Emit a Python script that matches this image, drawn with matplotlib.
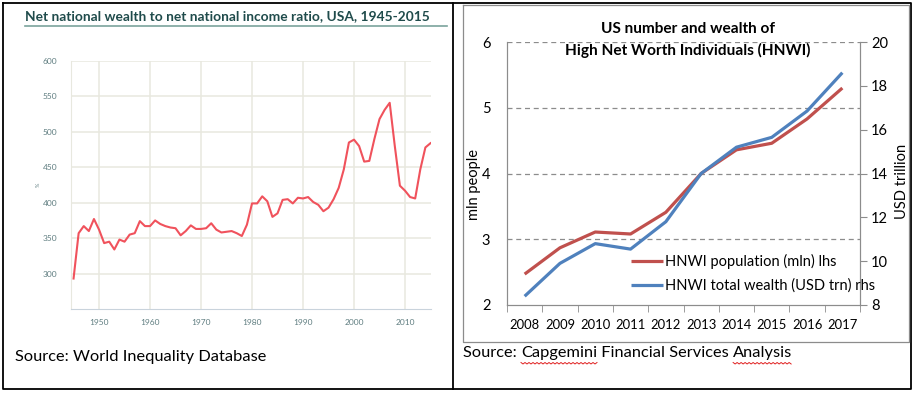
import matplotlib
matplotlib.use('Agg')
import matplotlib.pyplot as plt
from matplotlib.lines import Line2D

plt.rcParams['font.family'] = ['Lato', 'DejaVu Sans']

W, H = 918, 399

# ---- left chart: net national wealth / net national income, USA (%)
wid_years = list(range(1945, 2016))
wid_ratio = [293, 357, 367, 360, 377, 362, 343, 345, 334, 348,
             345, 355, 357, 374, 367, 367, 375, 370, 367, 365,
             364, 354, 360, 368, 363, 363, 364, 371, 362, 358,
             359, 360, 357, 353, 369, 399, 399, 409, 402, 380,
             385, 404, 405, 399, 407, 406, 408, 401, 397, 388,
             393, 405, 421, 447, 485, 489, 480, 458, 459, 490,
             518, 531, 541, 480, 424, 417, 408, 406, 447, 478, 484]
wid_yticks = [300, 350, 400, 450, 500, 550, 600]
wid_xticks = [1950, 1960, 1970, 1980, 1990, 2000, 2010]

# ---- right chart: US HNWI (Capgemini)
hnwi_years = ['2008', '2009', '2010', '2011', '2012', '2013', '2014', '2015', '2016', '2017']
hnwi_pop = [2.47, 2.87, 3.11, 3.08, 3.41, 4.00, 4.36, 4.46, 4.83, 5.30]
hnwi_wealth = [8.4, 9.9, 10.8, 10.55, 11.8, 14.0, 15.2, 15.65, 16.85, 18.6]


def box(x0, y0, x1, y1):
    # pixel box (top-left origin) -> figure fraction rect
    return [x0 / W, 1 - y1 / H, (x1 - x0) / W, (y1 - y0) / H]


def fline(xs, ys, **kw):
    fig.add_artist(Line2D([x / W for x in xs], [1 - y / H for y in ys],
                          transform=fig.transFigure, **kw))


def ftext(x, y, s, **kw):
    return fig.text(x / W, 1 - y / H, s, **kw)


fig = plt.figure(figsize=(W / 100, H / 100), dpi=100)

# table borders
fline([3, 911, 911, 3, 3], [3, 3, 389, 389, 3], color='black', lw=1.3)
fline([452.5, 452.5], [3, 389], color='black', lw=1.3)
fline([463, 909, 909, 463, 463], [4.5, 4.5, 342, 342, 4.5], color='#8c8c8c', lw=0.9)

# ---------------- left panel ----------------
teal = '#1f4b4b'
ftext(25, 16, 'Net national wealth to net national income ratio, USA, 1945-2015',
      fontsize=9.9, fontweight='bold', color=teal, va='center', ha='left')
fline([25, 447], [26, 26], color='#7aa39c', lw=1.2)

ax1 = fig.add_axes(box(71, 61, 431, 309))
ax1.plot(wid_years, wid_ratio, color='#f0525c', lw=1.5, solid_joinstyle='round')
ax1.set_xlim(1944.5, 2015.1)
ax1.set_ylim(250, 600)
ax1.set_yticks(wid_yticks)
ax1.set_xticks(wid_xticks)
ax1.grid(True, color='#e8e8df', lw=1.1)
ax1.set_axisbelow(True)
for s in ['top', 'right']:
    ax1.spines[s].set_visible(False)
ax1.spines['left'].set_color('#e8e8df')
ax1.spines['bottom'].set_color('#c9d3dc')
ax1.tick_params(length=0, labelsize=6, labelcolor='#5f7d80', pad=7)
ax1.tick_params(axis='y', pad=10)
ftext(38, 185, '%', fontsize=4, color='#5f7d80', rotation=90, ha='center', va='center')
ftext(15, 357, 'Source: World Inequality Database', fontsize=11.8, ha='left', va='center')

# ---------------- right panel ----------------
ax2 = fig.add_axes(box(507, 42, 860, 305))
ax3 = ax2.twinx()
x = list(range(len(hnwi_years)))
l1, = ax2.plot(x, hnwi_pop, color='#c0504d', lw=2.3, solid_capstyle='butt')
l2, = ax3.plot(x, hnwi_wealth, color='#4f81bd', lw=2.3, solid_capstyle='butt')

ax2.set_xlim(-0.5, len(hnwi_years) - 0.5)
ax2.set_ylim(2, 6)
ax3.set_ylim(8, 20)
ax2.set_yticks([2, 3, 4, 5, 6])
ax3.set_yticks([8, 10, 12, 14, 16, 18, 20])
ax2.set_xticks(x)
ax2.set_xticklabels(hnwi_years)
ax2.set_xticks([i - 0.5 for i in range(len(hnwi_years) + 1)], minor=True)

for yv in [3, 4, 5, 6]:
    ax2.axhline(yv, color='#8c8c8c', lw=0.9, ls=(0, (4, 3)), zorder=0)

for a in (ax2, ax3):
    a.spines['top'].set_visible(False)
    for s in ['left', 'right', 'bottom']:
        a.spines[s].set_color('#8c8c8c')

ax2.tick_params(axis='x', which='major', length=0, pad=10, labelsize=9.4)
ax2.tick_params(axis='x', which='minor', length=5, color='#8c8c8c', direction='out')
ax2.tick_params(axis='y', length=0, pad=12, labelsize=10.5)
ax3.tick_params(axis='y', length=5, color='#8c8c8c', pad=3, labelsize=10.5)

ax2.set_ylabel('mln people', fontsize=10.5)
ax2.yaxis.set_label_coords(-0.074, 0.46)
ax3.set_ylabel('USD trillion', fontsize=10.5, rotation=90)
ax3.yaxis.set_label_coords(1.099, 0.47)

ax3.legend([l1, l2], ['HNWI population (mln) lhs', 'HNWI total wealth (USD trn) rhs'],
           loc='lower left', bbox_to_anchor=(0.35, 0.045), frameon=False,
           fontsize=10.5, handlelength=2.2, handletextpad=0.15,
           labelspacing=0.65, borderpad=0, borderaxespad=0)

ftext(688, 29, 'US number and wealth of',
      fontsize=11.1, fontweight='bold', ha='center', va='center')
ftext(688, 50, 'High Net Worth Individuals (HNWI)',
      fontsize=11.1, fontweight='bold', ha='center', va='center')

# source line with spell-check squiggles under two words
src_parts = ['Source: ', 'Capgemini', ' Financial Services ', 'Analysis']
renderer = fig.canvas.get_renderer()
xpos = 463
for i, part in enumerate(src_parts):
    t = ftext(xpos, 353, part, fontsize=11.8, ha='left', va='center')
    bb = t.get_window_extent(renderer)
    if i in (1, 3):
        xs = []
        ys = []
        k = 0
        xx = xpos
        while xx <= xpos + bb.width:
            xs.append(xx)
            ys.append(363 + (1 if k % 2 else -0.5))
            xx += 2
            k += 1
        fline(xs, ys, color='#e02020', lw=0.7)
    xpos += bb.width

fig.savefig('out.png', dpi=100)
